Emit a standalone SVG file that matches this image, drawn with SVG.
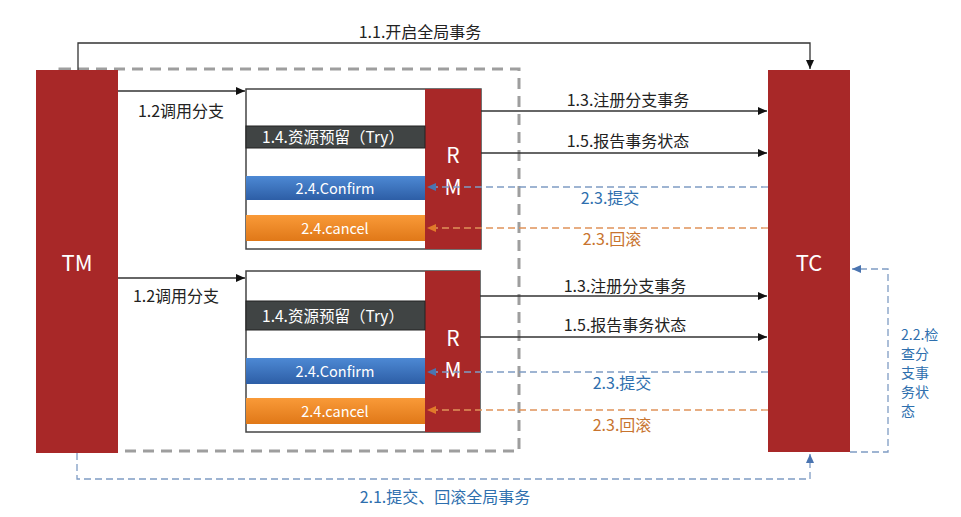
<svg xmlns="http://www.w3.org/2000/svg" width="961" height="517" viewBox="0 0 961 517">
<style>
.t{font-family:"Noto Sans CJK SC","Liberation Sans",sans-serif;font-size:16px;fill:#222;text-anchor:middle}
.w{font-family:"Noto Sans CJK SC","Liberation Sans",sans-serif;fill:#fff;text-anchor:middle}
.bl{fill:#2E6FAE}
.or{fill:#C8742E}
.red{fill:#A82828}
.ln{fill:none;stroke:#333;stroke-width:1.3}
.db{fill:none;stroke:#7F9CC4;stroke-width:1.3;stroke-dasharray:7,4}
.do{fill:none;stroke:#E0935A;stroke-width:1.3;stroke-dasharray:7,4}
.v{font-family:"Noto Sans CJK SC","Liberation Sans",sans-serif;font-size:14px;fill:#2E6FAE}
</style>
<defs>
<marker id="ab" markerWidth="10" markerHeight="10" refX="9" refY="5" orient="auto" markerUnits="userSpaceOnUse"><path d="M0,1 L9,5 L0,9 Z" fill="#111"/></marker>
<marker id="abl" markerWidth="10" markerHeight="10" refX="9" refY="5" orient="auto" markerUnits="userSpaceOnUse"><path d="M0,1 L9,5 L0,9 Z" fill="#4A74B0"/></marker>
<marker id="aor" markerWidth="10" markerHeight="10" refX="9" refY="5" orient="auto" markerUnits="userSpaceOnUse"><path d="M0,1 L9,5 L0,9 Z" fill="#E07A2A"/></marker>
<linearGradient id="gb" x1="0" y1="0" x2="0" y2="1"><stop offset="0" stop-color="#4D89D4"/><stop offset="1" stop-color="#2D5EA6"/></linearGradient>
<linearGradient id="go" x1="0" y1="0" x2="0" y2="1"><stop offset="0" stop-color="#F99A38"/><stop offset="1" stop-color="#E07818"/></linearGradient>
</defs>

<rect x="60" y="69" width="459" height="382" fill="none" stroke="#9E9E9E" stroke-width="3" stroke-dasharray="11,7"/>

<g id="TM"><rect class="red" x="36" y="70" width="82" height="383"/><text class="w" x="77" y="271" font-size="22">TM</text></g>
<g id="TC"><rect class="red" x="768" y="70" width="82" height="382"/><text class="w" x="809" y="271" font-size="22">TC</text></g>

<g id="branch1">
<rect x="246" y="89" width="235" height="160" fill="#fff" stroke="#444" stroke-width="1.5"/>
<rect class="red" x="425" y="89" width="56" height="160"/>
<text class="w" x="453" y="163" font-size="21">R</text>
<text class="w" x="453" y="195" font-size="21">M</text>
<g id="try1"><rect x="246" y="126" width="179" height="22" fill="#404444" stroke="#222" stroke-width="1"/><text class="w" x="333" y="143" font-size="15.5">1.4.资源预留（Try）</text></g>
<g id="confirm1"><rect x="246" y="176" width="179" height="24" fill="url(#gb)"/><text class="w" x="335" y="193.5" font-size="14.5">2.4.Confirm</text></g>
<g id="cancel1"><rect x="246" y="215" width="179" height="26" fill="url(#go)"/><text class="w" x="335" y="233.5" font-size="14.5">2.4.cancel</text></g>
</g>

<g id="branch2">
<rect x="246" y="271" width="234" height="161" fill="#fff" stroke="#444" stroke-width="1.5"/>
<rect class="red" x="425" y="271" width="55" height="161"/>
<text class="w" x="453" y="346" font-size="21">R</text>
<text class="w" x="453" y="378" font-size="21">M</text>
<g id="try2"><rect x="246" y="301" width="179" height="29" fill="#404444" stroke="#222" stroke-width="1"/><text class="w" x="333" y="321.5" font-size="15.5">1.4.资源预留（Try）</text></g>
<g id="confirm2"><rect x="246" y="358" width="179" height="26" fill="url(#gb)"/><text class="w" x="335" y="376.5" font-size="14.5">2.4.Confirm</text></g>
<g id="cancel2"><rect x="246" y="398" width="179" height="26" fill="url(#go)"/><text class="w" x="335" y="416.5" font-size="14.5">2.4.cancel</text></g>
</g>

<g id="connectors">
<path class="ln" d="M78,70 V43 H810 V69" marker-end="url(#ab)"/>
<text class="t" x="420" y="38">1.1.开启全局事务</text>

<path class="ln" d="M118,91 H245" marker-end="url(#ab)"/>
<text class="t" x="181" y="117">1.2调用分支</text>
<path class="ln" d="M118,278 H245" marker-end="url(#ab)"/>
<text class="t" x="176" y="302">1.2调用分支</text>

<path class="ln" d="M481,111 H767" marker-end="url(#ab)"/>
<text class="t" x="628" y="106">1.3.注册分支事务</text>
<path class="ln" d="M481,153 H767" marker-end="url(#ab)"/>
<text class="t" x="628" y="147">1.5.报告事务状态</text>
<path class="db" d="M768,187 H427" marker-end="url(#abl)"/>
<text class="t bl" x="610" y="204">2.3.提交</text>
<path class="do" d="M768,228 H427" marker-end="url(#aor)"/>
<text class="t or" x="612" y="245">2.3.回滚</text>

<path class="ln" d="M480,296 H767" marker-end="url(#ab)"/>
<text class="t" x="625" y="292">1.3.注册分支事务</text>
<path class="ln" d="M480,337 H767" marker-end="url(#ab)"/>
<text class="t" x="625" y="331">1.5.报告事务状态</text>
<path class="db" d="M768,372 H427" marker-end="url(#abl)"/>
<text class="t bl" x="622" y="389">2.3.提交</text>
<path class="do" d="M768,410 H427" marker-end="url(#aor)"/>
<text class="t or" x="622" y="431">2.3.回滚</text>

<path class="db" d="M850,452 H888 V269 H852" marker-end="url(#abl)"/>
<text class="v" x="901" y="340"><tspan x="901" dy="0">2.2.检</tspan><tspan x="901" dy="19">查分</tspan><tspan x="901" dy="19">支事</tspan><tspan x="901" dy="19">务状</tspan><tspan x="901" dy="19">态</tspan></text>

<path class="db" d="M77,453 V479 H810 V454" marker-end="url(#abl)"/>
<text class="t bl" x="445" y="503">2.1.提交、回滚全局事务</text>
</g>
</svg>
